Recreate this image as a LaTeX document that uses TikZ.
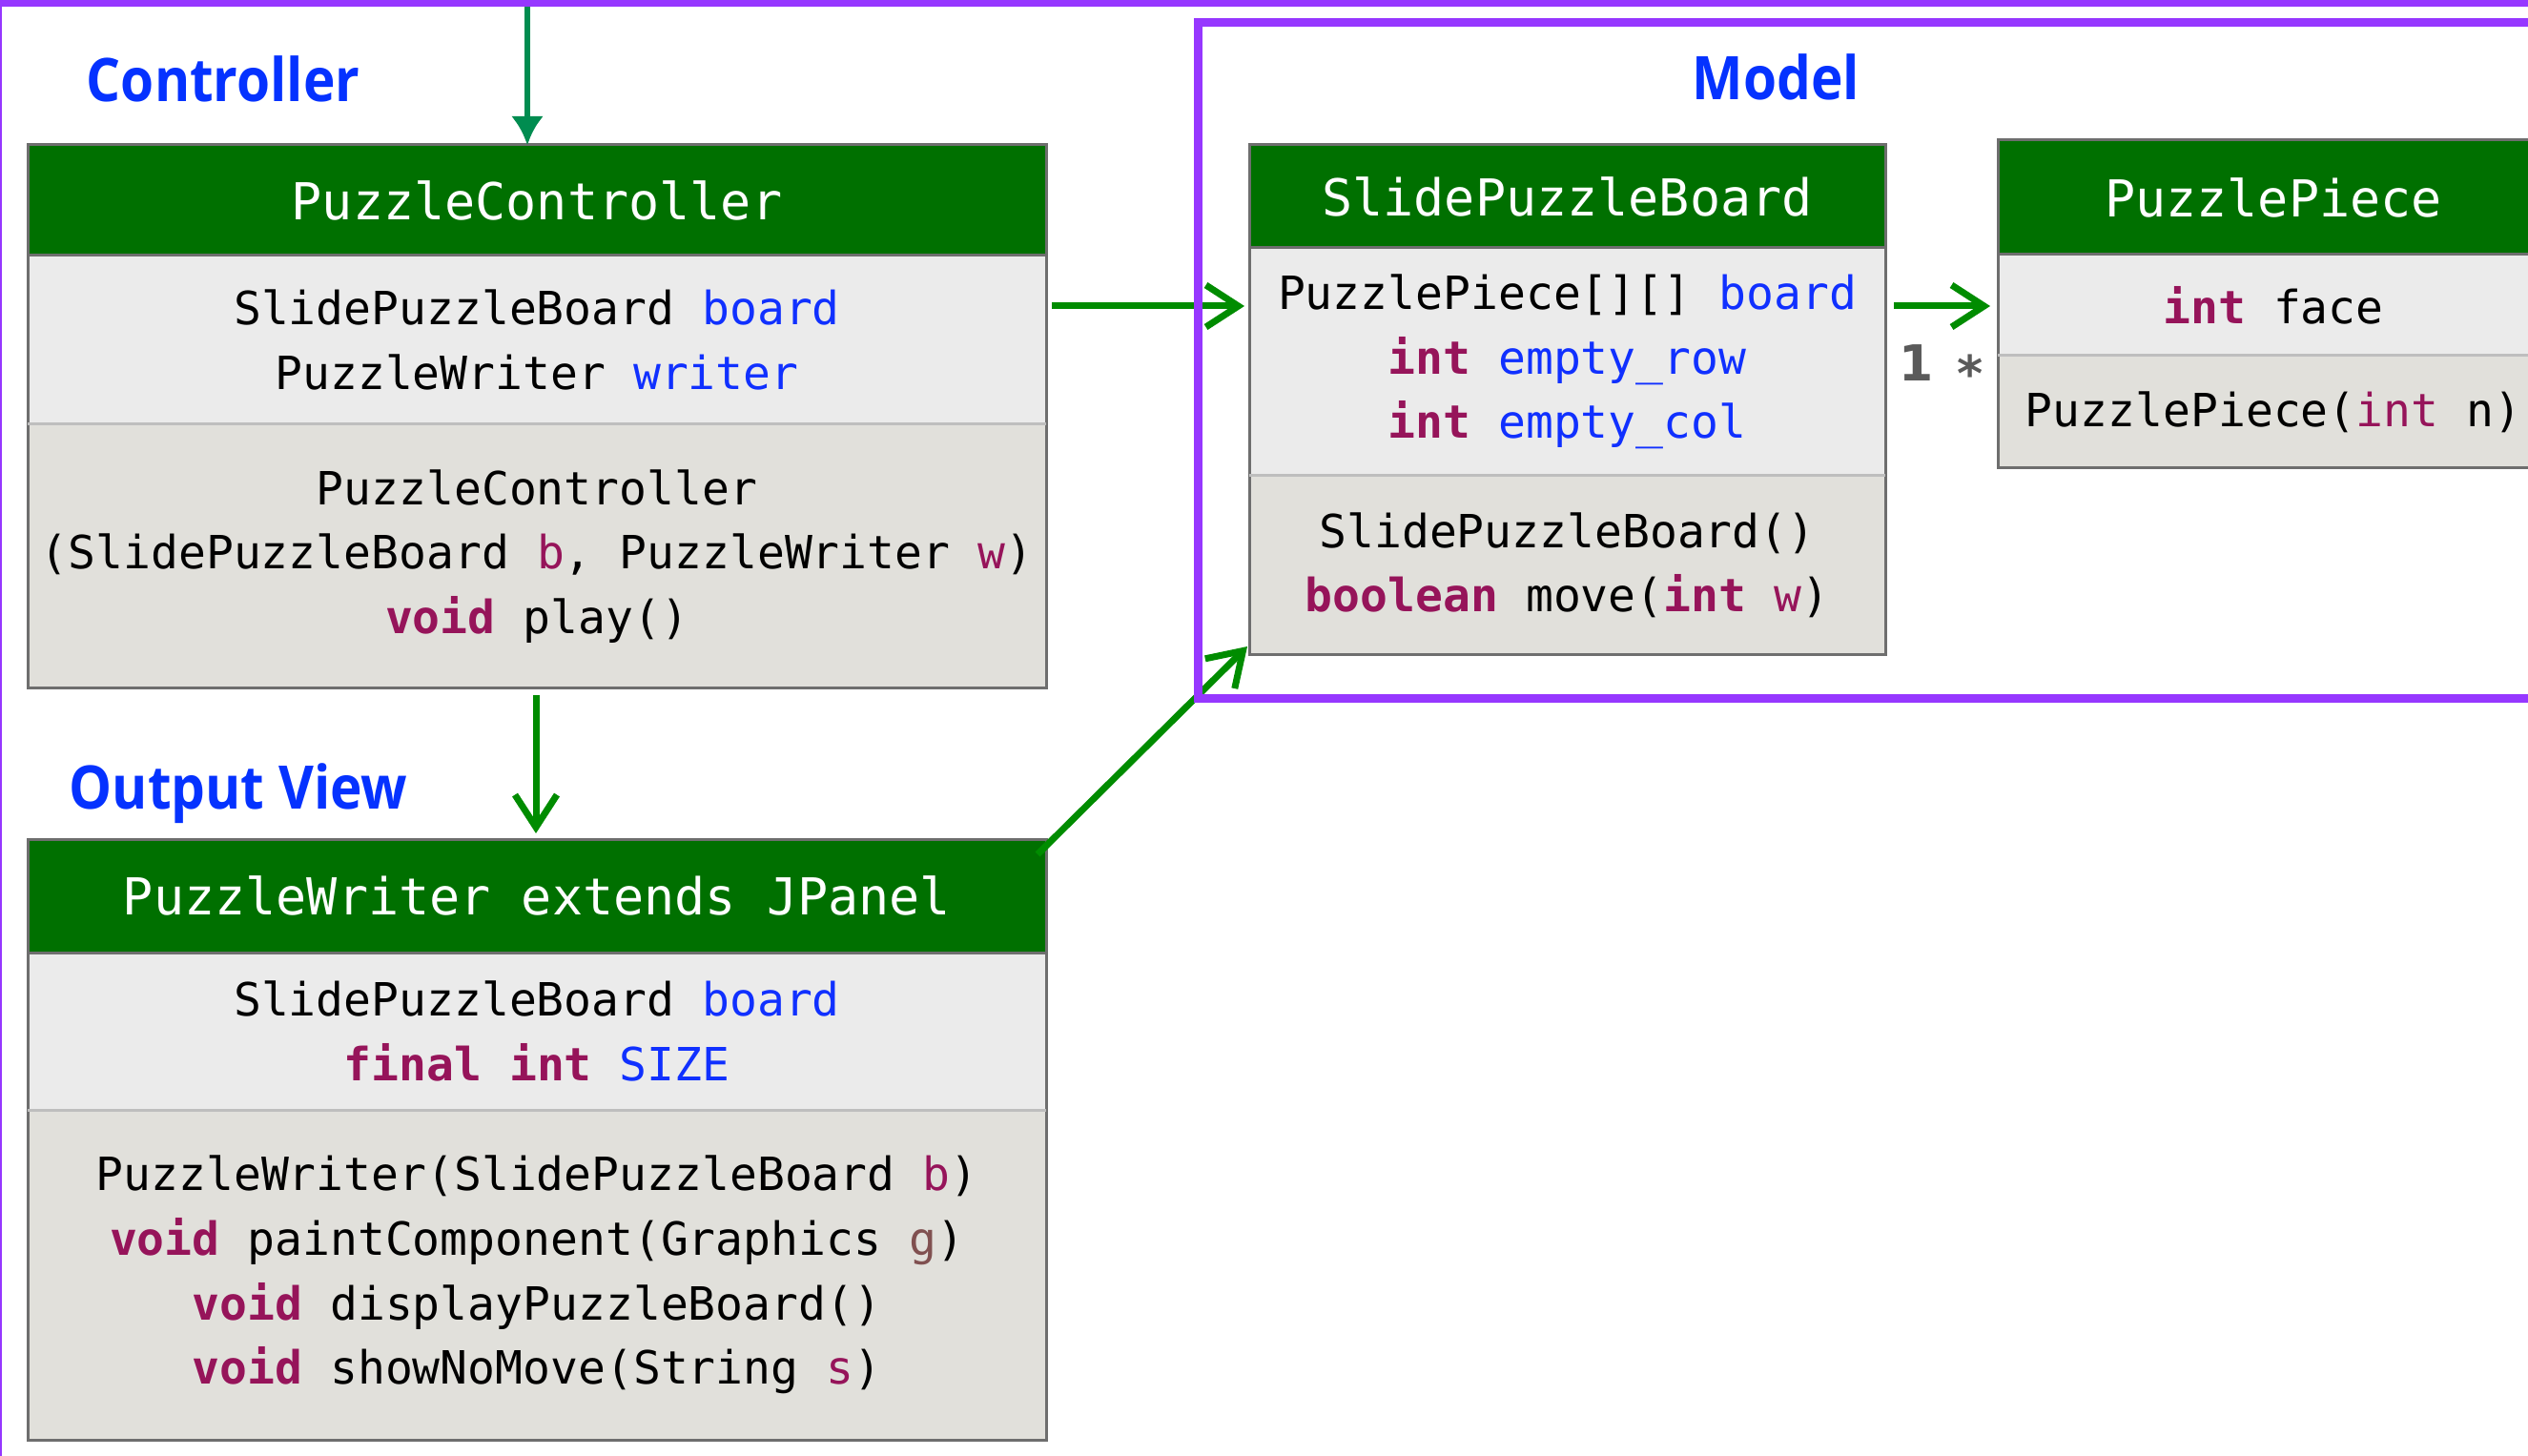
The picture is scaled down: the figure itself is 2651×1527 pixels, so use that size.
\documentclass[tikz,border=0pt]{standalone}
\usepackage{graphicx}
\usepackage{fontspec}
\setmonofont{DejaVu Sans Mono}
\newfontfamily\umllabelfont{Open Sans}
\newfontfamily\umlmultfont{DejaVu Sans}
\usetikzlibrary{arrows.meta,calc}
\definecolor{hgreen}{RGB}{0,112,0}
\definecolor{agreen}{RGB}{0,140,0}
\definecolor{tgreen}{RGB}{0,140,80}
\definecolor{bgray}{RGB}{110,110,110}
\definecolor{dgray}{RGB}{190,190,190}
\definecolor{attrbg}{RGB}{235,235,235}
\definecolor{methbg}{RGB}{225,224,219}
\definecolor{vblue}{RGB}{16,48,255}
\definecolor{kwc}{RGB}{150,20,90}
\definecolor{gbrown}{RGB}{128,80,80}
\definecolor{lblue}{RGB}{5,50,255}
\definecolor{framec}{RGB}{150,55,255}
\definecolor{multc}{RGB}{90,90,90}
\newcommand\kw[1]{{\bfseries\color{kwc}#1}}
\newcommand\vn[1]{{\color{vblue}#1}}
\newcommand\pn[1]{{\color{kwc}#1}}
\newcommand\umlbody{\fontsize{12pt}{16.9pt}\selectfont\ttfamily}
\newcommand\umlhead{\fontsize{13.35pt}{16pt}\selectfont\ttfamily}
\newcommand\umlsec[7]{\node[#6, anchor=north west, minimum width={(#4-#2)*0.25pt}, minimum height={(#5-#3)*0.25pt}] (#1) at (#2,#3) {#7};}
\begin{document}
\begin{tikzpicture}[x=0.25pt,y=-0.25pt,
  sec/.style={inner sep=0pt, outer sep=0pt, align=center, font=\umlbody},
  hdr/.style={sec, fill=hgreen, text=white, font=\umlhead},
  attr/.style={sec, fill=attrbg},
  meth/.style={sec, fill=methbg},
  border/.style={draw=bgray, line width=0.75pt},
  divider/.style={draw=dgray, line width=0.75pt},
  conn/.style={draw=agreen, line width=1.75pt, -{Straight Barb[length=8.5pt,width=11pt]}},
  tconn/.style={draw=tgreen, line width=1.5pt, -{Latex[length=7.5pt,width=8.5pt]}},
  lbl/.style={inner sep=0pt, text=lblue, font=\umllabelfont\bfseries\fontsize{15.75pt}{18pt}\selectfont},
  mult/.style={inner sep=0pt, text=multc, font=\umlmultfont\bfseries\fontsize{13pt}{15pt}\selectfont},
  frm/.style={draw=framec, line width=2.25pt}]
\useasboundingbox (0,0) rectangle (2651,1527);
\fill[white] (0,0) rectangle (2651,1527);

% labels
\node[lbl, anchor=base west] (lctrl) at (90,107) {\scalebox{0.9}[1]{Controller}};
\node[lbl, anchor=base west] (lmodel) at (1774,105) {\scalebox{0.9}[1]{Model}};
\node[lbl, anchor=base west] (lview) at (72,848) {\scalebox{0.9}[1]{Output View}};

% PuzzleController
\umlsec{pch}{29}{152}{1097}{268}{hdr}{PuzzleController}
\umlsec{pca}{29}{268}{1097}{445}{attr}{SlidePuzzleBoard \vn{board}\\PuzzleWriter \vn{writer}}
\umlsec{pcm}{29}{445}{1097}{722}{meth}{PuzzleController\\(SlidePuzzleBoard \pn{b}, PuzzleWriter \pn{w})\\\kw{void} play()}
\draw[border] (pch.north west) rectangle (pcm.south east);
\draw[border] (pch.south west) -- (pch.south east);
\draw[divider] (pca.south west) -- (pca.south east);

% SlidePuzzleBoard
\umlsec{spbh}{1310}{152}{1977}{260}{hdr}{SlidePuzzleBoard}
\umlsec{spba}{1310}{260}{1977}{499}{attr}{PuzzlePiece[][] \vn{board}\\\kw{int} \vn{empty\_row}\\\kw{int} \vn{empty\_col}}
\umlsec{spbm}{1310}{499}{1977}{687}{meth}{SlidePuzzleBoard()\\\kw{boolean} move(\kw{int} \pn{w})}
\draw[border] (spbh.north west) rectangle (spbm.south east);
\draw[border] (spbh.south west) -- (spbh.south east);
\draw[divider] (spba.south west) -- (spba.south east);

% PuzzlePiece
\umlsec{pph}{2095}{147}{2673}{267}{hdr}{PuzzlePiece}
\umlsec{ppa}{2095}{267}{2673}{373}{attr}{\kw{int} face}
\umlsec{ppm}{2095}{373}{2673}{491}{meth}{PuzzlePiece(\pn{int} n)}
\draw[border] (pph.north west) rectangle (ppm.south east);
\draw[border] (pph.south west) -- (pph.south east);
\draw[divider] (ppa.south west) -- (ppa.south east);

% PuzzleWriter
\umlsec{pwh}{29}{880}{1097}{999}{hdr}{PuzzleWriter extends JPanel}
\umlsec{pwa}{29}{999}{1097}{1164}{attr}{SlidePuzzleBoard \vn{board}\\\kw{final} \kw{int} \vn{SIZE}}
\umlsec{pwm}{29}{1164}{1097}{1510}{meth}{PuzzleWriter(SlidePuzzleBoard \pn{b})\\\kw{void} paintComponent(Graphics {\color{gbrown}g})\\\kw{void} displayPuzzleBoard()\\\kw{void} showNoMove(String \pn{s})}
\draw[border] (pwh.north west) rectangle (pwm.south east);
\draw[border] (pwh.south west) -- (pwh.south east);
\draw[divider] (pwa.south west) -- (pwa.south east);

% connectors
\coordinate (topin) at (553,-10);
\draw[tconn] (topin) -- (topin |- pch.north);
\draw[conn] ($(pca.north east)+(6,53)$) -- ($(spba.north west)+(-5,61)$);
\draw[conn] ($(spba.north east)+(9,61)$) -- ($(ppa.north west)+(-8,54)$);
\draw[conn] ($(pcm.south)+(-1,7)$) -- ($(pwh.north)+(-1,-6)$);
\draw[conn] ($(pwh.north east)+(-9,16)$) -- ($(spbm.south west)+(-2,-9)$);

% multiplicities
\node[mult] (m1) at (2010,381) {1};
\node[mult, anchor=base] (m2) at (2066,411) {*};

% frames
\draw[frm] (1256,24) rectangle (2720,733);
\draw[frm] (-3,3) rectangle (2720,1600);
\end{tikzpicture}
\end{document}
